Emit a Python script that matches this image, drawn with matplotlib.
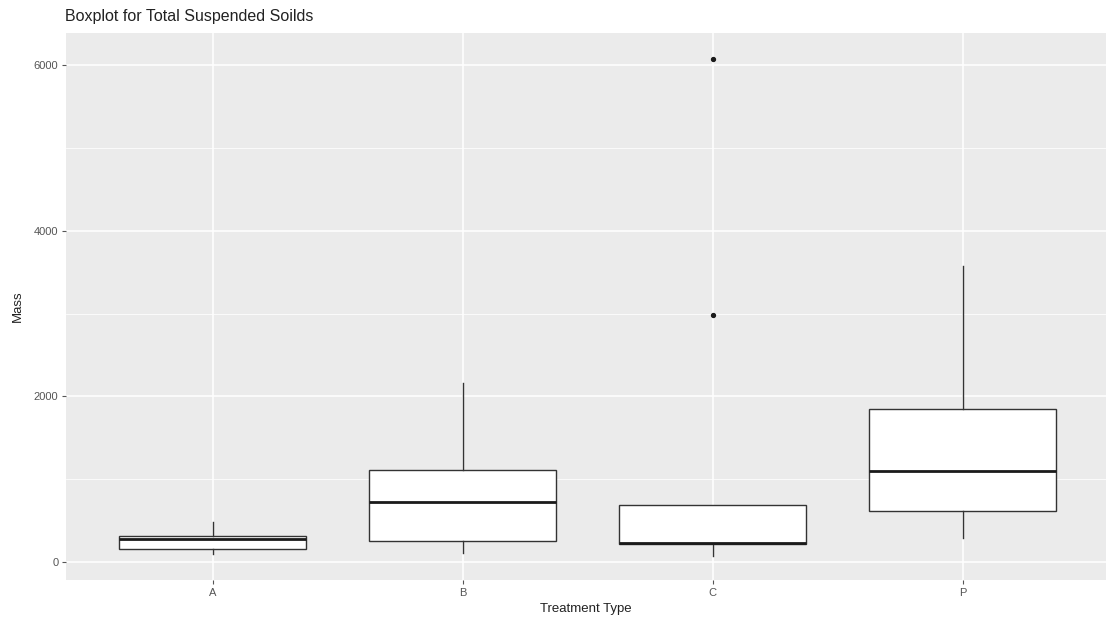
import matplotlib
matplotlib.use("Agg")
import matplotlib.pyplot as plt
import numpy as np

plt.rcParams["font.family"] = ["Liberation Sans", "DejaVu Sans"]

# Boxplot stats (mass)
CATEGORIES = ["A", "B", "C", "P"]
WHISK_LO = [96, 108, 72, 293]
Q1 = [160, 253, 217, 618]
MEDIAN = [277, 723, 229, 1100]
Q3 = [310, 1109, 695, 1852]
WHISK_HI = [486, 2157, 695, 3579]
OUTLIERS = [[], [], [2988, 6073], []]

Y_TICKS = [0, 2000, 4000, 6000]
Y_MINOR = [1000, 3000, 5000]

_PANEL_BG = "#EBEBEB"

fig = plt.figure(figsize=(11.06, 6.24), dpi=100)
fig.patch.set_facecolor("white")
ax = fig.add_axes([66 / 1106, 44 / 624, 1 - 66 / 1106, (580 - 33) / 624])
ax.set_facecolor(_PANEL_BG)

stats = []
for i, cat in enumerate(CATEGORIES):
    stats.append({
        "label": cat,
        "whislo": WHISK_LO[i], "q1": Q1[i], "med": MEDIAN[i],
        "q3": Q3[i], "whishi": WHISK_HI[i], "fliers": OUTLIERS[i],
    })

positions = np.arange(1, len(CATEGORIES) + 1)
ax.bxp(
    stats, positions=positions, widths=0.75, patch_artist=True, showcaps=False,
    boxprops=dict(facecolor="white", edgecolor="#333333", linewidth=1.0),
    medianprops=dict(color="#1a1a1a", linewidth=2.0),
    whiskerprops=dict(color="#333333", linewidth=1.0),
    flierprops=dict(marker="o", markersize=2.8, markerfacecolor="#1a1a1a",
                    markeredgecolor="#1a1a1a"),
    zorder=3,
)

ax.set_xlim(0.413, 4.573)
ax.set_ylim(-215, 6385)
ax.set_xticks(positions)
ax.set_xticklabels(CATEGORIES)
ax.set_yticks(Y_TICKS)
ax.set_yticks(Y_MINOR, minor=True)

ax.grid(which="major", color="white", linewidth=1.1, zorder=0)
ax.grid(which="minor", axis="y", color="white", linewidth=0.55, zorder=0)
ax.set_axisbelow(True)
for s in ax.spines.values():
    s.set_visible(False)

ax.tick_params(which="major", length=3, width=0.8, color="#555555",
               labelsize=8, labelcolor="#555555", pad=2.5)
ax.tick_params(which="minor", length=0)

ax.set_xlabel("Treatment Type", fontsize=9.5, color="#222222", labelpad=4)
ax.set_ylabel("Mass", fontsize=9.5, color="#222222", labelpad=7)
fig.text(65 / 1106, 1 - 17 / 624, "Boxplot for Total Suspended Soilds",
         fontsize=11.5, color="#222222", ha="left", va="center")

fig.savefig("out.png", dpi=100)
